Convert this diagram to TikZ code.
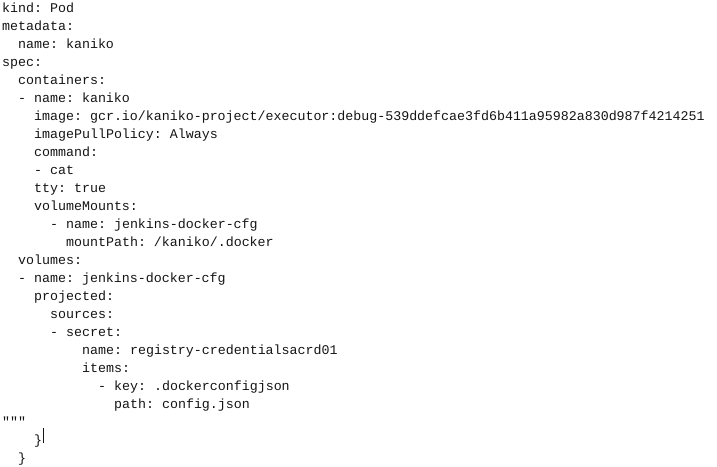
\documentclass[tikz,border=0pt]{standalone}
\usepackage{fontspec}
\setmonofont{Liberation Mono}
\usetikzlibrary{positioning}
\definecolor{codetext}{RGB}{20,20,20}

\begin{document}
\begin{tikzpicture}[x=1pt,y=-1pt,
    codeline/.style={anchor=base west, inner sep=0pt, text=codetext, font=\ttfamily\fontsize{13.3}{13.3}\selectfont},
]
    \useasboundingbox (0,0) rectangle (717,466);
    % YAML lines: {row/indent/text}
    \foreach \row/\ind/\txt [count=\k] in {
        1/0/{kind: Pod},
        2/0/{metadata:},
        3/2/{name: kaniko},
        4/0/{spec:},
        5/2/{containers:},
        6/2/{- name: kaniko},
        7/4/{image: gcr.io/kaniko-project/executor:debug-539ddefcae3fd6b411a95982a830d987f4214251},
        8/4/{imagePullPolicy: Always},
        9/4/{command:},
        10/4/{- cat},
        11/4/{tty: true},
        12/4/{volumeMounts:},
        13/6/{- name: jenkins-docker-cfg},
        14/8/{mountPath: /kaniko/.docker},
        15/2/{volumes:},
        16/2/{- name: jenkins-docker-cfg},
        17/4/{projected:},
        18/6/{sources:},
        19/6/{- secret:},
        20/10/{name: registry-credentialsacrd01},
        21/10/{items:},
        22/12/{- key: .dockerconfigjson},
        23/14/{path: config.json},
        24/0/{"""},
        25/4/{\}},
        26/2/{\}}}
        \node[codeline] (line\k) at ({2+8*\ind},{12.5+18*(\row-1)}) {\txt};

    % text cursor
    \draw[codetext, line width=0.8pt] ([xshift=1pt,yshift=2pt]line25.base east) -- ++(0,-15);
\end{tikzpicture}
\end{document}
